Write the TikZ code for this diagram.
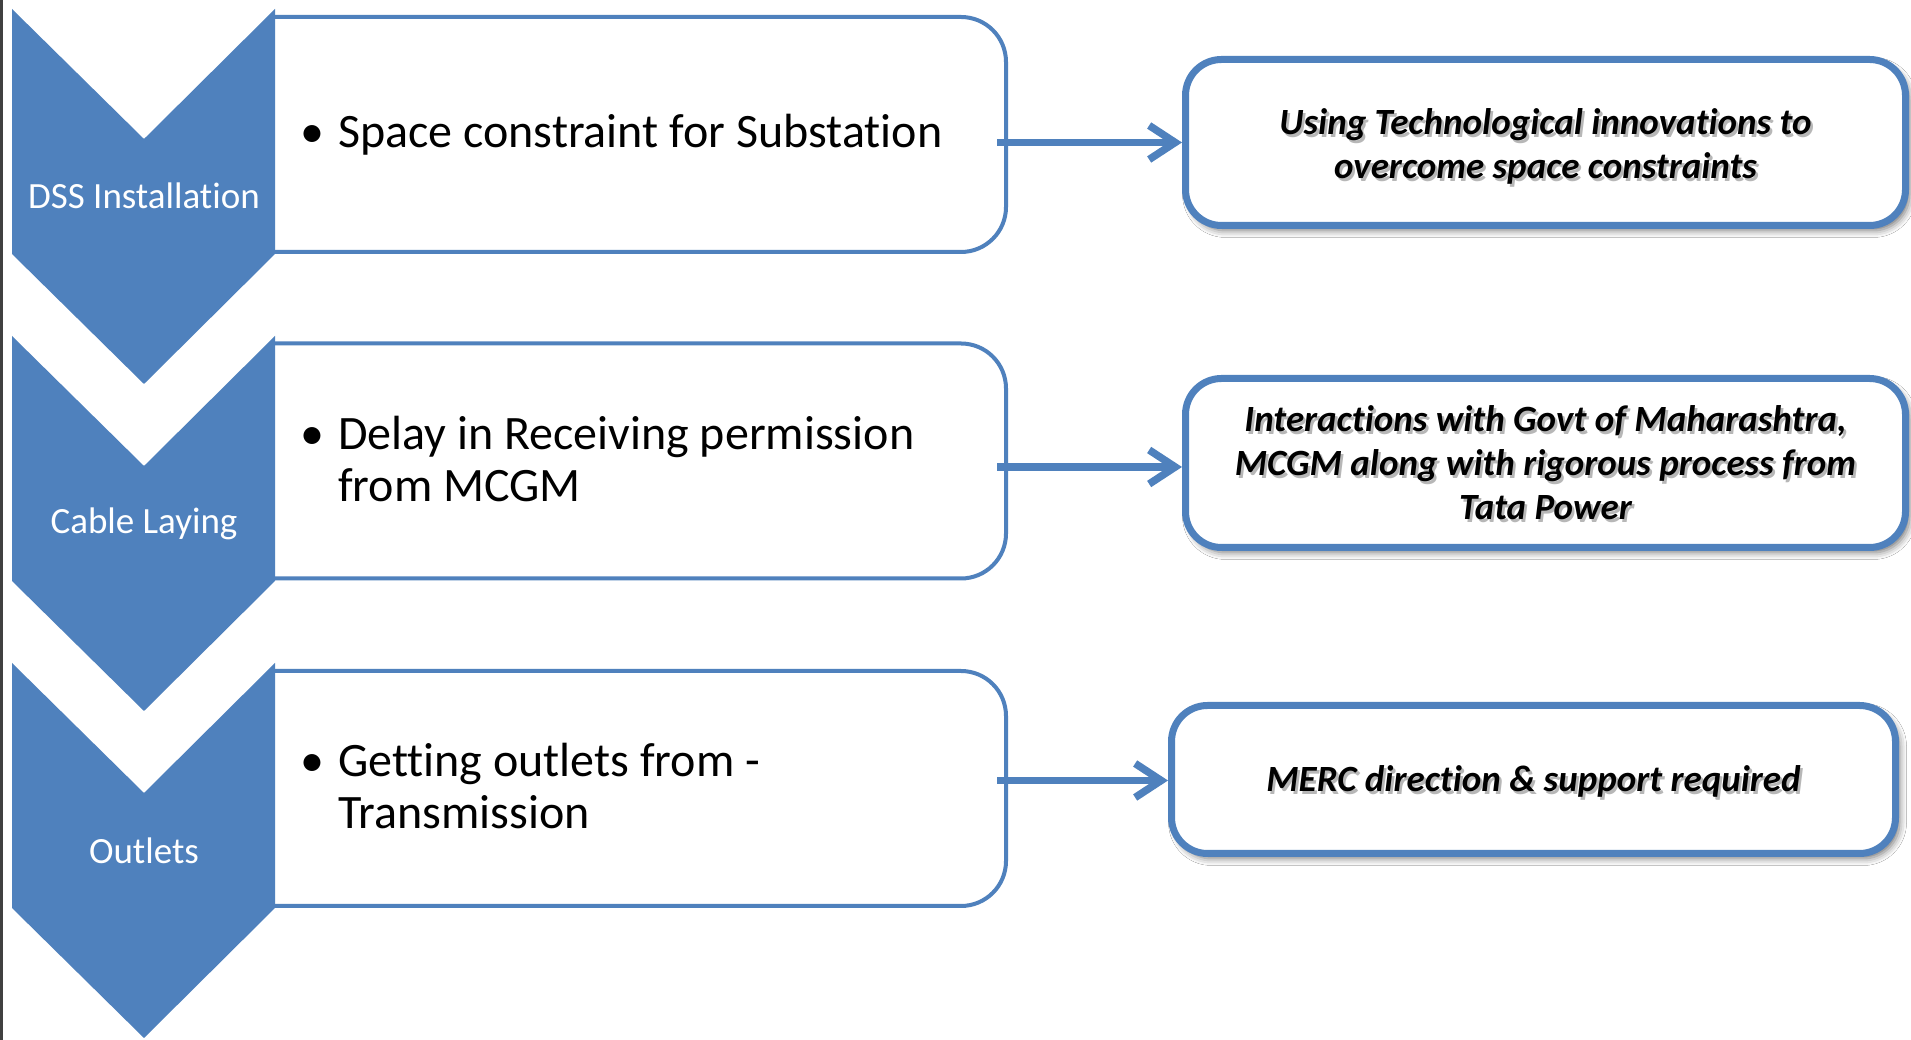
\documentclass[tikz,border=0pt]{standalone}
\usepackage{fontspec}
\setmainfont{Carlito}[Ligatures=NoCommon]
\usetikzlibrary{arrows.meta,shadows.blur,calc}
\definecolor{ofblue}{HTML}{4F81BD}
\tikzset{
 chev/.style={fill=ofblue},
 chevlabel/.style={text=white, font=\fontsize{37}{44}\selectfont, inner sep=0pt},
 leftbox/.style={draw=none, minimum width=731pt, minimum height=235pt, inner sep=0pt, outer sep=0pt},
 leftline/.style={draw=ofblue, line width=4pt, rounded corners=45pt},
 lefttext/.style={font=\fontsize{48}{52}\selectfont, anchor=west, inner sep=0pt, align=left},
 rightbox/.style={draw=ofblue, fill=white, line width=7pt, rounded corners=36pt, inner sep=0pt,
   blur shadow={shadow xshift=4pt, shadow yshift=-5pt, shadow blur radius=7pt, shadow opacity=55}},
 righttext/.style={font=\fontsize{37}{44}\selectfont\bfseries\itshape, align=center, inner sep=0pt},
 rtshadow/.style={righttext, text=black!70, text opacity=0.4},
 link/.style={draw=ofblue, line width=7.5pt, -{Straight Barb[length=26pt,width=34pt]}},
}
\newcommand{\bul}{\makebox[38pt][l]{\textbullet}}
\begin{document}
\begin{tikzpicture}[x=1pt,y=1pt]
\useasboundingbox (0,0) rectangle (1911,1040);
\fill[white] (0,0) rectangle (1911,1040);
\draw[line width=2.5pt, black!75] (1.25,0) -- (1.25,1040);

% left boxes (invisible nodes) and their outlines
\node[leftbox] (L1) at (640.5,905.5) {};
\node[leftbox] (L2) at (640.5,579) {};
\node[leftbox] (L3) at (640.5,251.5) {};
\foreach \n in {L1,L2,L3}
  \draw[leftline] (\n.south west) -- (\n.south east) -- (\n.north east) -- (\n.north west);

% chevrons
\fill[chev] (12,1031) -- (144,901) -- (275,1031) -- (275,786) -- (144,656) -- (12,786) -- cycle;
\fill[chev] (12,704) -- (144,574) -- (275,704) -- (275,459) -- (144,329) -- (12,459) -- cycle;
\fill[chev] (12,377) -- (144,247) -- (275,377) -- (275,132) -- (144,2) -- (12,132) -- cycle;
\node[chevlabel] (C1) at (144,844) {DSS Installation};
\node[chevlabel] (C2) at (144,516) {Cable Laying};
\node[chevlabel] (C3) at (144,189) {Outlets};

% left texts
\node[lefttext] (T1) at (300,905) {\bul Space constraint for Substation};
\node[lefttext] (T2) at (300,581) {\bul Delay in Receiving permission\\\hspace*{38pt}from MCGM};
\node[lefttext] (T3) at (300,254) {\bul Getting outlets from -\\\hspace*{38pt}Transmission};

% right boxes
\node[rightbox, minimum width=720pt, minimum height=166pt] (R1) at (1545.5,897.5) {};
\node[rightbox, minimum width=720pt, minimum height=169pt] (R2) at (1545.5,577) {};
\node[rightbox, minimum width=724pt, minimum height=148pt] (R3) at (1533.5,260.5) {};

\node[rtshadow] (S1) at ($(R1.center)+(2.5,-7)$) {Using Technological innovations to\\overcome space constraints};
\node[righttext] (RT1) at ($(R1.center)+(0,-4)$) {Using Technological innovations to\\overcome space constraints};
\node[rtshadow] (S2) at ($(R2.center)+(2.5,-3)$) {Interactions with Govt of Maharashtra,\\MCGM along with rigorous process from\\Tata Power};
\node[righttext] (RT2) at (R2.center) {Interactions with Govt of Maharashtra,\\MCGM along with rigorous process from\\Tata Power};
\node[rtshadow] (S3) at ($(R3.center)+(2.5,-5)$) {MERC direction \& support required};
\node[righttext] (RT3) at ($(R3.center)+(0,-2)$) {MERC direction \& support required};

% arrows
\draw[link] ($(L1.east |- R1.west)+(-9,0)$) -- (R1.west);
\draw[link] ($(L2.east |- R2.west)+(-9,-4)$) -- ($(R2.west)+(0,-4)$);
\draw[link] ($(L3.east |- R3.west)+(-9,-1)$) -- ($(R3.west)+(0,-1)$);
\end{tikzpicture}
\end{document}
